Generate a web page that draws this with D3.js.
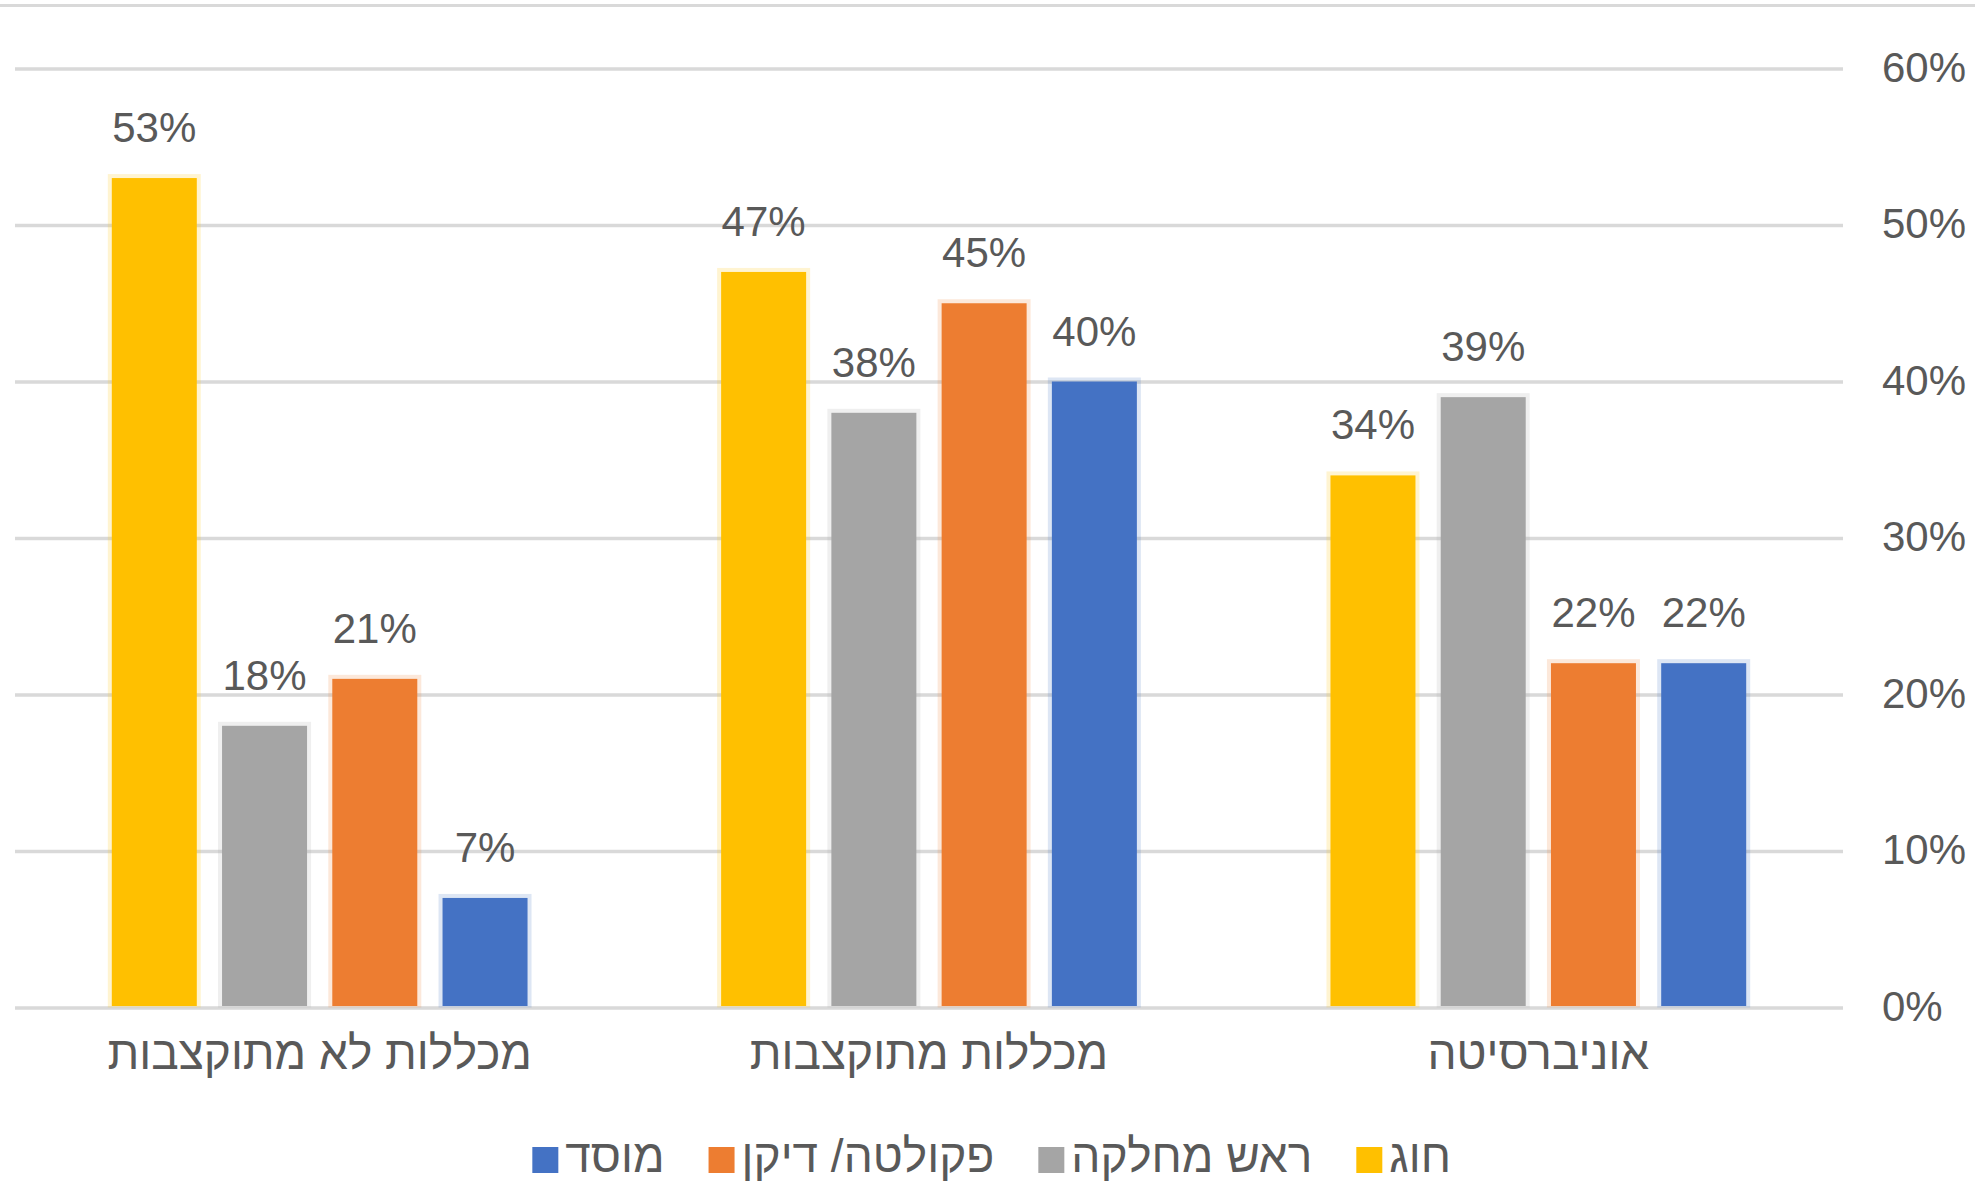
<!DOCTYPE html>
<html>
<head>
<meta charset="utf-8">
<script src="https://cdn.jsdelivr.net/npm/d3@7"></script>
<style>
  body { margin: 0; background: #fff; }
  text { font-family: "Liberation Sans", Arial, sans-serif; fill: #595959; }
</style>
</head>
<body>
<div id="chart"></div>
<script>
// categories go right to left, like the original (RTL) chart
const categories = ["אוניברסיטה", "מכללות מתוקצבות", "מכללות לא מתוקצבות"];
const seriesNames = ["חוג", "ראש מחלקה", "פקולטה/ דיקן", "מוסד"];
const seriesColors = ["#FFC000", "#A5A5A5", "#ED7D31", "#4472C4"];

const chugValues = [0.34, 0.47, 0.53];
const roshValues = [0.39, 0.38, 0.18];
const facultyValues = [0.22, 0.45, 0.21];
const mosadValues = [0.22, 0.40, 0.07];
const seriesValues = [chugValues, roshValues, facultyValues, mosadValues];

const yTicks = [0, 0.1, 0.2, 0.3, 0.4, 0.5, 0.6];

const W = 1975, H = 1182;
const plot = { left: 15, right: 1843, top: 68.5, bottom: 1007.5 };

const svg = d3.select("#chart").append("svg")
  .attr("width", W)
  .attr("height", H);

// top border line
svg.append("line")
  .attr("x1", 0).attr("x2", W)
  .attr("y1", 5.5).attr("y2", 5.5)
  .attr("stroke", "#D9D9D9")
  .attr("stroke-width", 3);

const y = d3.scaleLinear().domain([0, 0.6]).range([plot.bottom, plot.top]);

const x0 = d3.scaleBand()
  .domain(categories)
  .range([plot.right, plot.left]);

const x1 = d3.scaleBand()
  .domain(seriesNames)
  .range([0, x0.bandwidth()])
  .paddingInner(0.229)
  .paddingOuter(0.878);

// gridlines
const grid = svg.append("g")
  .attr("transform", `translate(${plot.left},0)`)
  .call(d3.axisLeft(y).tickValues(yTicks).tickSize(-(plot.right - plot.left)).tickFormat(""));
grid.select(".domain").remove();
grid.selectAll("line").attr("stroke", "#D9D9D9").attr("stroke-width", 3.5);

// y axis labels on the right
const yAxis = svg.append("g")
  .attr("transform", `translate(${plot.right},0)`)
  .call(d3.axisRight(y).tickValues(yTicks).tickSize(0).tickPadding(39).tickFormat(d3.format(".0%")));
yAxis.select(".domain").remove();
yAxis.selectAll("text")
  .style("font-size", "42px")
  .attr("fill", "#595959")
  .attr("dy", "0.3em");

// bars
const rows = [];
seriesNames.forEach((s, si) => {
  categories.forEach((c, ci) => {
    rows.push({ series: s, cat: c, value: seriesValues[si][ci], color: seriesColors[si] });
  });
});

const bars = svg.append("g");
bars.selectAll(".halo")
  .data(rows)
  .enter()
  .append("rect")
  .attr("class", "halo")
  .attr("x", (d) => x0(d.cat) + x1(d.series) - 4)
  .attr("width", x1.bandwidth() + 8)
  .attr("y", (d) => y(d.value) - 4)
  .attr("height", (d) => plot.bottom - y(d.value) + 4)
  .attr("fill", (d) => d.color)
  .attr("opacity", 0.18);

bars.selectAll(".bar")
  .data(rows)
  .enter()
  .append("rect")
  .attr("class", "bar")
  .attr("x", (d) => x0(d.cat) + x1(d.series))
  .attr("width", x1.bandwidth())
  .attr("y", (d) => y(d.value))
  .attr("height", (d) => plot.bottom - y(d.value) - 1.5)
  .attr("fill", (d) => d.color);

// value labels
svg.selectAll(".bar-value")
  .data(rows)
  .enter()
  .append("text")
  .attr("class", "bar-value")
  .attr("x", (d) => x0(d.cat) + x1(d.series) + x1.bandwidth() / 2)
  .attr("y", (d) => y(d.value) - 36)
  .attr("text-anchor", "middle")
  .style("font-size", "42px")
  .text((d) => d3.format(".0%")(d.value));

// category labels
svg.selectAll(".cat-label")
  .data(categories)
  .enter()
  .append("text")
  .attr("class", "cat-label")
  .attr("x", (d) => x0(d) + x0.bandwidth() / 2)
  .attr("y", 1069)
  .attr("text-anchor", "middle")
  .style("font-size", "46px")
  .text((d) => d);

// legend, laid out right to left
const legend = svg.append("g");
let right = 1451;
seriesNames.forEach((s, i) => {
  const t = legend.append("text")
    .attr("y", 1172)
    .style("font-size", "46px")
    .text(s);
  const w = t.node().getComputedTextLength();
  t.attr("x", right - w);
  legend.append("rect")
    .attr("x", right - w - 7 - 26)
    .attr("y", 1147)
    .attr("width", 26)
    .attr("height", 26)
    .attr("fill", seriesColors[i]);
  right = right - w - 7 - 26 - 44;
});
</script>
</body>
</html>
